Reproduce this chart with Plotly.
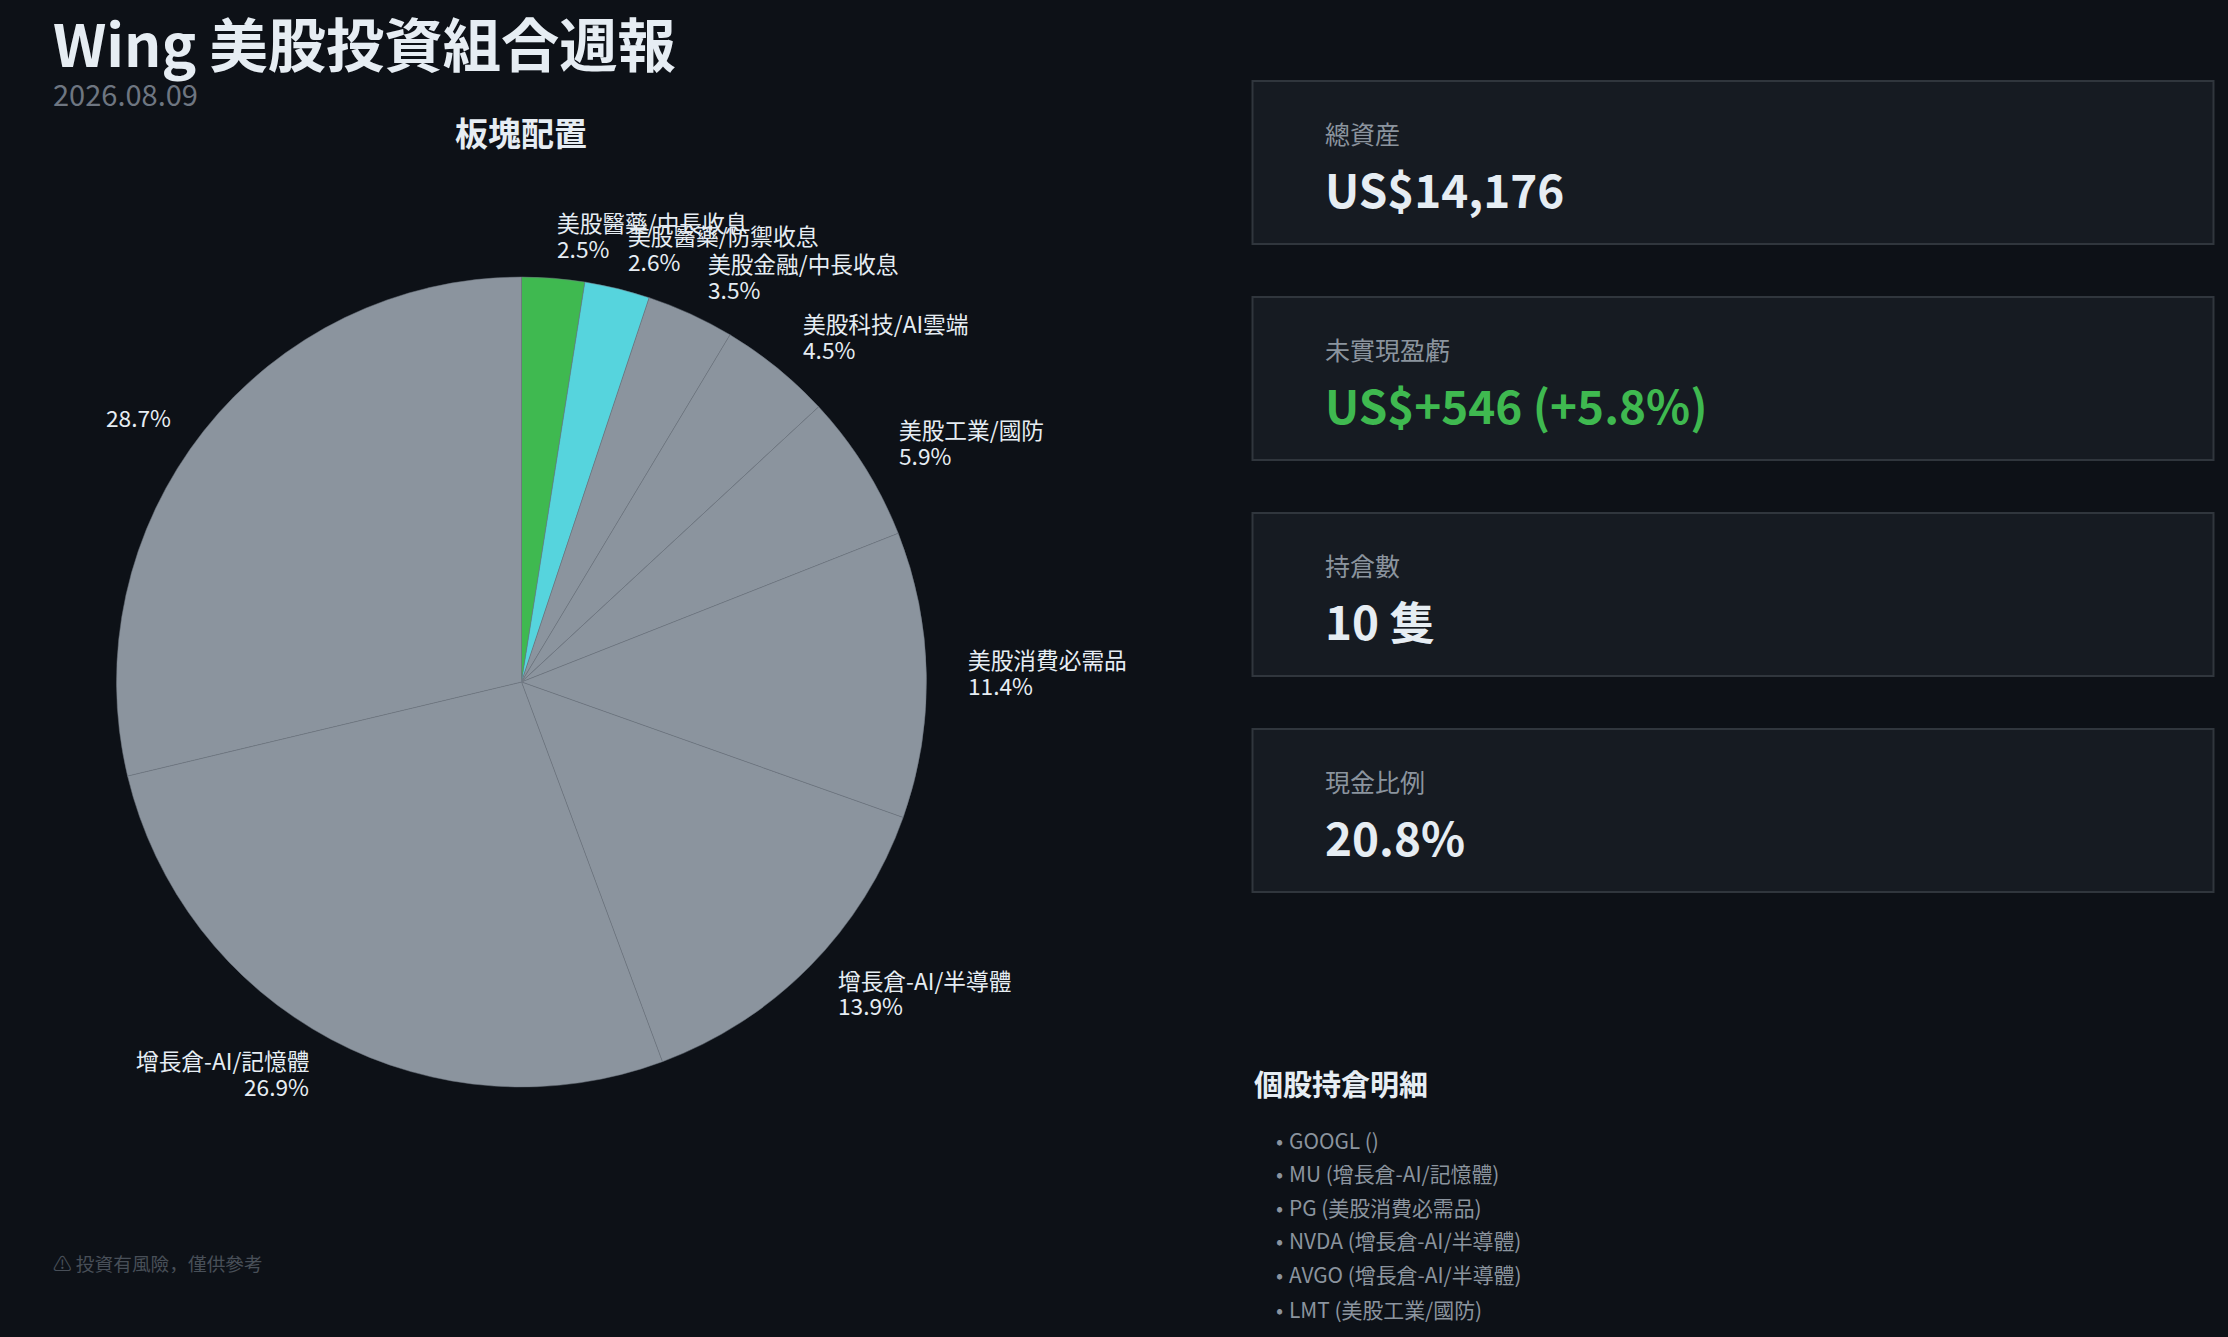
"""Wing portfolio weekly report page."""

import plotly.graph_objects as go

W, H = 2228, 1337
FONT = "Noto Sans CJK JP, Noto Sans, sans-serif"
LABEL_COLOR = "#e6edf3"

sectors = [
    "美股醫藥/中長收息", "美股醫藥/防禦收息", "美股金融/中長收息", "美股科技/AI雲端",
    "美股工業/國防", "美股消費必需品", "增長倉-AI/半導體", "增長倉-AI/記憶體", "",
]
weights = [2.5, 2.6, 3.5, 4.5, 5.9, 11.4, 13.9, 26.9, 28.7]
slice_colors = [
    "#3fb950", "#56d4dd", "#8b949e", "#8b949e", "#8b949e",
    "#8b949e", "#8b949e", "#8b949e", "#8b949e",
]

stat_labels = ["總資産", "未實現盈虧", "持倉數", "現金比例"]
stat_values = ["US$14,176", "US$+546 (+5.8%)", "10 隻", "20.8%"]
stat_colors = ["#e6edf3", "#3fb950", "#e6edf3", "#e6edf3"]

holdings = [
    "GOOGL ()", "MU (增長倉-AI/記憶體)", "PG (美股消費必需品)",
    "NVDA (增長倉-AI/半導體)", "AVGO (增長倉-AI/半導體)", "LMT (美股工業/國防)",
]


def px(x):
    return x / W


def py(y):
    return 1 - y / H


def add_text(fig, x, y, text, size, color, bold=False, xanchor="left"):
    fig.add_annotation(
        x=px(x), y=py(y), xref="paper", yref="paper", xanchor=xanchor, yanchor="middle",
        text=f"<b>{text}</b>" if bold else text, showarrow=False,
        font={"size": size, "color": color, "family": FONT},
    )


fig = go.Figure(
    go.Pie(
        labels=sectors,
        values=weights,
        sort=False,
        direction="clockwise",
        textinfo="none",
        marker={"colors": slice_colors, "line": {"color": "#6e7681", "width": 0.5}},
        domain={"x": [px(116.5), px(926.5)], "y": [py(1087), py(277)]},
    )
)

# slice labels sit left-aligned beside the pie, name over percent
label_spots = [
    (555, 223, "left"), (626, 235, "left"), (706, 263, "left"), (801, 323, "left"),
    (897, 429, "left"), (966, 659, "left"), (836, 980, "left"), (311, 1060, "right"),
    (173, None, "right"),
]
for (x, y, anchor), name, share in zip(label_spots, sectors, weights):
    if y is None:
        add_text(fig, x, 417, f"{share}%", 22.7, LABEL_COLOR, xanchor=anchor)
        continue
    add_text(fig, x, y, name, 22.7, LABEL_COLOR, xanchor=anchor)
    add_text(fig, x, y + 26, f"{share}%", 22.7, LABEL_COLOR, xanchor=anchor)

add_text(fig, 51, 41, "Wing 美股投資組合週報", 58.3, "#e6edf3", bold=True)
add_text(fig, 51, 93, "2026.08.09", 29, "#6e7681")
add_text(fig, 521, 132, "板塊配置", 33, "#e6edf3", bold=True, xanchor="center")
add_text(fig, 51, 1262, "⚠ 投資有風險，僅供參考", 18.7, "#484f58")

card_tops = [81, 297, 513, 729]
for top, label, value, color in zip(card_tops, stat_labels, stat_values, stat_colors):
    fig.add_shape(
        type="rect", xref="paper", yref="paper",
        x0=px(1252.5), x1=px(2213.5), y0=py(top), y1=py(top + 163),
        fillcolor="#161b22", line={"color": "#30363d", "width": 2}, layer="below",
    )
    add_text(fig, 1323, top + 52, label, 25, "#8b949e")
    add_text(fig, 1323, top + 107, value, 45.8, color, bold=True)

add_text(fig, 1252, 1083, "個股持倉明細", 29, "#e6edf3", bold=True)
for y, item in zip([1140, 1173, 1207, 1240, 1274, 1309], holdings):
    add_text(fig, 1274, y, "•", 21, "#8b949e")
    add_text(fig, 1287, y, item, 20.9, "#8b949e")

fig.update_layout(
    width=W,
    height=H,
    paper_bgcolor="#0d1117",
    plot_bgcolor="#0d1117",
    margin={"l": 0, "r": 0, "t": 0, "b": 0},
    showlegend=False,
    font={"family": FONT},
)

fig.write_html(
    "out.html",
    config={"displayModeBar": False},
    post_script="document.body.style.margin = '0';",
)
